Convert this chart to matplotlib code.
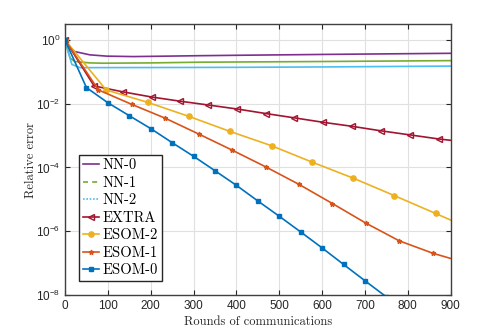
import numpy as np
import matplotlib
matplotlib.use('Agg')
import matplotlib.pyplot as plt
from matplotlib.lines import Line2D

# rounds of communications / relative error
nn0_x = [0, 10, 23, 58, 97, 159, 240, 315, 408, 600, 900]
nn0_y = [1.0, 0.6, 0.43, 0.34, 0.31, 0.30, 0.31, 0.32, 0.33, 0.35, 0.38]

nn1_x = [0, 6, 12, 23, 58, 89, 200, 315, 600, 900]
nn1_y = [1.0, 0.5, 0.27, 0.21, 0.19, 0.186, 0.19, 0.20, 0.21, 0.224]

nn2_x = [0, 8, 16, 35, 47, 200, 400, 600, 900]
nn2_y = [1.0, 0.4, 0.17, 0.135, 0.135, 0.136, 0.138, 0.142, 0.151]

extra_x = [0, 68, 135, 202, 268, 334, 402, 469, 535, 603, 670, 737, 805, 873, 900]
extra_y = [1.0, 3.6e-2, 2.35e-2, 1.62e-2, 1.2e-2, 9.1e-3, 6.8e-3, 4.9e-3,
           3.6e-3, 2.6e-3, 1.95e-3, 1.41e-3, 1.05e-3, 7.8e-4, 7.1e-4]

esom2_x = [0, 96, 193, 289, 385, 482, 576, 673, 768, 865, 900]
esom2_y = [1.0, 2.7e-2, 1.1e-2, 4.0e-3, 1.35e-3, 4.8e-4, 1.48e-4, 4.6e-5,
           1.32e-5, 3.6e-6, 2.24e-6]

esom1_x = [0, 78, 156, 234, 312, 390, 468, 546, 624, 702, 780, 858, 900]
esom1_y = [1.0, 2.7e-2, 9.5e-3, 3.5e-3, 1.12e-3, 3.5e-4, 1.05e-4, 2.95e-5,
           7.4e-6, 1.8e-6, 5.0e-7, 2.05e-7, 1.4e-7]

esom0_x = [0, 50, 100, 150, 200, 250, 300, 350, 400, 450, 500, 550, 600, 650, 700, 750]
esom0_y = [1.0, 3.2e-2, 1.07e-2, 4.2e-3, 1.66e-3, 6.0e-4, 2.24e-4, 7.9e-5,
           2.75e-5, 8.9e-6, 2.95e-6, 9.5e-7, 3.0e-7, 9.1e-8, 2.8e-8, 8.7e-9]

xticks = [0, 100, 200, 300, 400, 500, 600, 700, 800, 900]
yticks = [1e0, 1e-2, 1e-4, 1e-6, 1e-8]

c_blue = '#0072BD'
c_orange = '#D95319'
c_yellow = '#EDB120'
c_purple = '#7E2F8E'
c_green = '#77AC30'
c_cyan = '#4DBEEE'
c_red = '#A2142F'

plt.rcParams['font.family'] = 'Liberation Sans'
plt.rcParams['mathtext.fontset'] = 'custom'
plt.rcParams['mathtext.rm'] = 'Liberation Sans'
plt.rcParams['mathtext.it'] = 'Liberation Sans:italic'

fig = plt.figure(figsize=(4.98, 3.32), dpi=100)
ax = fig.add_axes([0.1305, 0.1114, 0.7745, 0.8156])

lw = 1.2
ax.plot(nn0_x, nn0_y, '-', color=c_purple, lw=lw)
ax.plot(nn1_x, nn1_y, '-', color=c_green, lw=lw)
ax.plot(nn2_x, nn2_y, '-', color=c_cyan, lw=lw)
ax.plot(extra_x, extra_y, '-', color=c_red, lw=lw, marker='<', ms=5,
        mfc='none', mew=1.0, markevery=slice(0, -1))
ax.plot(esom2_x, esom2_y, '-', color=c_yellow, lw=lw, marker='o', ms=3.8,
        markevery=slice(0, -1))
ax.plot(esom1_x, esom1_y, '-', color=c_orange, lw=lw, marker='*', ms=3.5,
        markevery=slice(0, -1))
ax.plot(esom0_x, esom0_y, '-', color=c_blue, lw=lw, marker='s', ms=3)

ax.set_yscale('log')
ax.set_xlim(0, 900)
ax.set_ylim(1e-8, 3.1)
ax.set_xticks(xticks)
ax.set_yticks(yticks)
ax.yaxis.set_minor_locator(matplotlib.ticker.NullLocator())
ax.tick_params(direction='in', which='both', top=True, right=True,
               labelsize=8.5, colors='#262626', length=3.5, width=0.8)
ax.grid(True, color='#e0e0e0', lw=0.8)
ax.set_axisbelow(True)
for s in ax.spines.values():
    s.set_color('#404040')
    s.set_linewidth(1.0)

ax.set_xlabel('Rounds of communications', fontfamily='cmr10', fontsize=9,
              color='#262626', labelpad=3)
ax.set_ylabel('Relative error', fontfamily='cmr10', fontsize=9,
              color='#262626', labelpad=-1)

handles = [
    Line2D([], [], color=c_purple, lw=lw, ls='-'),
    Line2D([], [], color=c_green, lw=lw, ls=(0, (3, 2.5))),
    Line2D([], [], color=c_cyan, lw=lw, ls=(0, (1, 1))),
    Line2D([], [], color=c_red, lw=lw, marker='<', ms=5, mfc='none', mew=1.0),
    Line2D([], [], color=c_yellow, lw=lw, marker='o', ms=3.8),
    Line2D([], [], color=c_orange, lw=lw, marker='*', ms=3.5),
    Line2D([], [], color=c_blue, lw=lw, marker='s', ms=3),
]
labels = ['NN-0', 'NN-1', 'NN-2', 'EXTRA', 'ESOM-2', 'ESOM-1', 'ESOM-0']
leg = ax.legend(handles, labels, loc='upper left', bbox_to_anchor=(0.036, 0.517),
                prop={'family': 'cmr10', 'size': 10.5}, fancybox=False,
                handlelength=1.15, handletextpad=0.25, labelspacing=0.26,
                borderpad=0.25, borderaxespad=0, framealpha=1)
leg.get_frame().set_edgecolor('#262626')
leg.get_frame().set_linewidth(1.0)

fig.savefig('out.png', dpi=100)
